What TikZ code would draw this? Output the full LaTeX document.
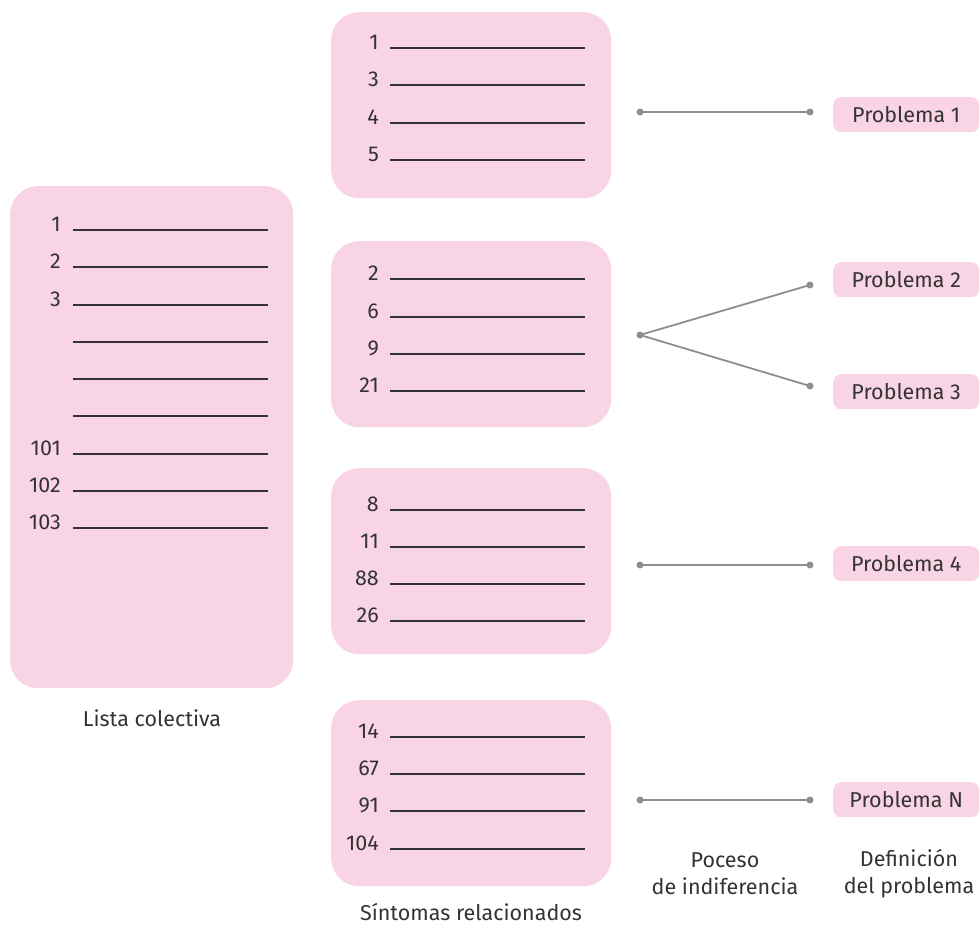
\documentclass[tikz,border=0pt]{standalone}
\usepackage{fontspec}
\setmainfont{Fira Sans}
\definecolor{pinkc}{HTML}{F8D4E5}
\definecolor{txtc}{HTML}{333333}
\definecolor{linec}{HTML}{333333}
\definecolor{conc}{HTML}{8E8E8E}
\begin{document}
\begin{tikzpicture}[x=1pt,y=-1pt,
  bigbox/.style={fill=pinkc, draw=none, rounded corners=28pt, inner sep=0pt, anchor=north west},
  probbox/.style={fill=pinkc, draw=none, rounded corners=8pt, inner sep=0pt, anchor=north west,
    minimum width=146pt, minimum height=35pt, text=txtc, font=\fontsize{21.5}{25}\selectfont},
  num/.style={anchor=base east, inner sep=0pt, text=txtc, font=\fontsize{21.5}{25}\selectfont},
  ul/.style={draw=linec, line width=1.2pt},
  lbl/.style={text=txtc, font=\fontsize{21.5}{27}\selectfont, align=center, inner sep=0pt},
  con/.style={draw=conc, line width=1.8pt},
  dot/.style={circle, fill=conc, inner sep=0pt, minimum size=7pt}]
\useasboundingbox (0,0) rectangle (980,926);
% left list
\node[bigbox, minimum width=283pt, minimum height=502pt] (lista) at (10,186) {};
\foreach \y/\t in {230/1,267/2,305/3,342/,379/,416/,454/101,491/102,528/103}{
  \node[num] at (61,\y+1) {\t};
  \draw[ul] (73,\y) -- (268,\y);
}
\node[lbl] (listalbl) at (152,718) {Lista colectiva};
% right boxes
\foreach \i/\top in {1/12,2/241,3/468,4/700}{
  \node[bigbox, minimum width=280pt, minimum height=186pt] (b\i) at (331,\top) {};
}
\foreach \y/\t in {48/1,85/3,123/4,160/5,
                   279/2,317/6,354/9,391/21,
                   510/8,547/11,584/88,621/26,
                   737/14,774/67,811/91,849/104}{
  \node[num] at (379,\y+1) {\t};
  \draw[ul] (390,\y) -- (585,\y);
}
\node[lbl, anchor=base] (sintlbl) at (471,920) {Síntomas relacionados};
% problem boxes
\node[probbox] (p1) at (833,97) {Problema 1};
\node[probbox] (p2) at (833,262) {Problema 2};
\node[probbox] (p3) at (833,374) {Problema 3};
\node[probbox] (p4) at (833,546) {Problema 4};
\node[probbox] (pn) at (833,782) {Problema N};
% connectors
\node[dot] (s1) at (640,112) {};
\node[dot] (e1) at (810,112) {};
\node[dot] (s2) at (640,335) {};
\node[dot] (e2) at (810,285) {};
\node[dot] (e3) at (810,386) {};
\node[dot] (s3) at (640,565) {};
\node[dot] (e4) at (810,565) {};
\node[dot] (s4) at (640,800) {};
\node[dot] (e5) at (810,800) {};
\draw[con] (s1.center) -- (e1.center);
\draw[con] (s2.center) -- (e2.center);
\draw[con] (s2.center) -- (e3.center);
\draw[con] (s3.center) -- (e4.center);
\draw[con] (s4.center) -- (e5.center);
% bottom labels
\node[lbl] (proc) at (725,874) {Poceso\\de indiferencia};
\node[lbl] (defn) at (909,874) {Definición\\del problema};
\end{tikzpicture}
\end{document}
